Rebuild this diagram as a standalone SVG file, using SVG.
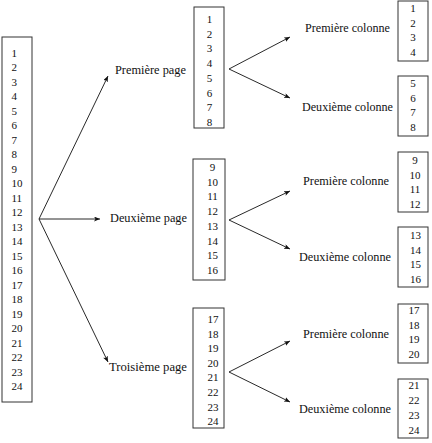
<svg xmlns="http://www.w3.org/2000/svg" width="432" height="443" viewBox="0 0 432 443">
<style>
.box{fill:none;stroke:#333;stroke-width:1}
.n{font-family:"Liberation Serif","Times New Roman",Tinos,"DejaVu Serif","Noto Serif",serif;font-size:11px;fill:#111}
.c{text-anchor:middle}
.l{font-family:"Liberation Serif","Times New Roman",Tinos,"DejaVu Serif","Noto Serif",serif;font-size:11.5px;fill:#111}
.a{stroke:#111;stroke-width:0.9;fill:none;marker-end:url(#ah)}
</style>
<defs>
<marker id="ah" markerUnits="userSpaceOnUse" markerWidth="8" markerHeight="6" refX="6" refY="2.5" orient="auto">
<path d="M0,0 L6,2.5 L0,5 L1.5,2.5 z" fill="#111"/>
</marker>
</defs>
<rect width="432" height="443" fill="#fff"/>
<g id="all">
<rect class="box" x="2" y="37" width="30" height="365"/>
<text class="n" x="11.5" y="56.5">1</text>
<text class="n" x="11.5" y="71">2</text>
<text class="n" x="11.5" y="85.5">3</text>
<text class="n" x="11.5" y="100">4</text>
<text class="n" x="11.5" y="114.5">5</text>
<text class="n" x="11.5" y="129">6</text>
<text class="n" x="11.5" y="143.5">7</text>
<text class="n" x="11.5" y="158">8</text>
<text class="n" x="11.5" y="172.5">9</text>
<text class="n" x="11.5" y="187">10</text>
<text class="n" x="11.5" y="201.5">11</text>
<text class="n" x="11.5" y="216">12</text>
<text class="n" x="11.5" y="230.5">13</text>
<text class="n" x="11.5" y="245">14</text>
<text class="n" x="11.5" y="259.5">15</text>
<text class="n" x="11.5" y="274">16</text>
<text class="n" x="11.5" y="288.5">17</text>
<text class="n" x="11.5" y="303">18</text>
<text class="n" x="11.5" y="317.5">19</text>
<text class="n" x="11.5" y="332">20</text>
<text class="n" x="11.5" y="346.5">21</text>
<text class="n" x="11.5" y="361">22</text>
<text class="n" x="11.5" y="375.5">23</text>
<text class="n" x="11.5" y="390">24</text>
</g>
<g id="page1">
<text class="l" x="115" y="74" textLength="71" lengthAdjust="spacingAndGlyphs">Première page</text>
<rect class="box" x="194" y="7" width="30" height="121"/>
<text class="n c" x="209.5" y="23">1</text>
<text class="n c" x="209.5" y="37.7">2</text>
<text class="n c" x="209.5" y="52.4">3</text>
<text class="n c" x="209.5" y="67.1">4</text>
<text class="n c" x="209.5" y="81.8">5</text>
<text class="n c" x="209.5" y="96.5">6</text>
<text class="n c" x="209.5" y="111.2">7</text>
<text class="n c" x="209.5" y="125.9">8</text>
</g>
<g id="page2">
<text class="l" x="110" y="222" textLength="77" lengthAdjust="spacingAndGlyphs">Deuxième page</text>
<rect class="box" x="193" y="159" width="32" height="121"/>
<text class="n c" x="212.5" y="171">9</text>
<text class="n c" x="212.5" y="185.7">10</text>
<text class="n c" x="212.5" y="200.4">11</text>
<text class="n c" x="212.5" y="215.1">12</text>
<text class="n c" x="212.5" y="229.8">13</text>
<text class="n c" x="212.5" y="244.5">14</text>
<text class="n c" x="212.5" y="259.2">15</text>
<text class="n c" x="212.5" y="273.9">16</text>
</g>
<g id="page3">
<text class="l" x="109" y="371" textLength="78" lengthAdjust="spacingAndGlyphs">Troisième page</text>
<rect class="box" x="193" y="308" width="31" height="120"/>
<text class="n c" x="213" y="323">17</text>
<text class="n c" x="213" y="337.6">18</text>
<text class="n c" x="213" y="352.2">19</text>
<text class="n c" x="213" y="366.8">20</text>
<text class="n c" x="213" y="381.4">21</text>
<text class="n c" x="213" y="396">22</text>
<text class="n c" x="213" y="410.6">23</text>
<text class="n c" x="213" y="425.2">24</text>
</g>
<g id="p1c1">
<text class="l" x="305" y="32" textLength="85" lengthAdjust="spacingAndGlyphs">Première colonne</text>
<rect class="box" x="398" y="1" width="30" height="60"/>
<text class="n c" x="413" y="12">1</text>
<text class="n c" x="413" y="26.7">2</text>
<text class="n c" x="413" y="41.4">3</text>
<text class="n c" x="413" y="56">4</text>
</g>
<g id="p1c2">
<text class="l" x="302" y="111" textLength="91" lengthAdjust="spacingAndGlyphs">Deuxième colonne</text>
<rect class="box" x="398" y="76" width="30" height="60"/>
<text class="n c" x="413" y="87">5</text>
<text class="n c" x="413" y="101.7">6</text>
<text class="n c" x="413" y="116.4">7</text>
<text class="n c" x="413" y="131">8</text>
</g>
<g id="p2c1">
<text class="l" x="303" y="185" textLength="86" lengthAdjust="spacingAndGlyphs">Première colonne</text>
<rect class="box" x="398" y="152" width="30" height="60"/>
<text class="n c" x="415" y="164">9</text>
<text class="n c" x="415" y="178.5">10</text>
<text class="n c" x="415" y="193">11</text>
<text class="n c" x="415" y="207.5">12</text>
</g>
<g id="p2c2">
<text class="l" x="299" y="261" textLength="92" lengthAdjust="spacingAndGlyphs">Deuxième colonne</text>
<rect class="box" x="398" y="227" width="30" height="60"/>
<text class="n c" x="415.5" y="239">13</text>
<text class="n c" x="415.5" y="253.5">14</text>
<text class="n c" x="415.5" y="268">15</text>
<text class="n c" x="415.5" y="282.5">16</text>
</g>
<g id="p3c1">
<text class="l" x="303" y="338" textLength="86" lengthAdjust="spacingAndGlyphs">Première colonne</text>
<rect class="box" x="398" y="304" width="30" height="59"/>
<text class="n c" x="414" y="314">17</text>
<text class="n c" x="414" y="328.5">18</text>
<text class="n c" x="414" y="343">19</text>
<text class="n c" x="414" y="357.5">20</text>
</g>
<g id="p3c2">
<text class="l" x="299" y="413" textLength="92" lengthAdjust="spacingAndGlyphs">Deuxième colonne</text>
<rect class="box" x="398" y="379" width="30" height="59"/>
<text class="n c" x="414" y="389">21</text>
<text class="n c" x="414" y="404">22</text>
<text class="n c" x="414" y="419">23</text>
<text class="n c" x="414" y="434">24</text>
</g>
<g id="connectors">
<line class="a" x1="39" y1="219" x2="108" y2="76"/>
<line class="a" x1="39" y1="219" x2="100" y2="219"/>
<line class="a" x1="39" y1="219" x2="108" y2="362"/>
<line class="a" x1="229" y1="69" x2="290" y2="37"/>
<line class="a" x1="229" y1="69" x2="290" y2="98"/>
<line class="a" x1="229" y1="220" x2="290" y2="191"/>
<line class="a" x1="229" y1="220" x2="290" y2="249"/>
<line class="a" x1="229" y1="372" x2="290" y2="341"/>
<line class="a" x1="229" y1="372" x2="290" y2="402"/>
</g>
</svg>
